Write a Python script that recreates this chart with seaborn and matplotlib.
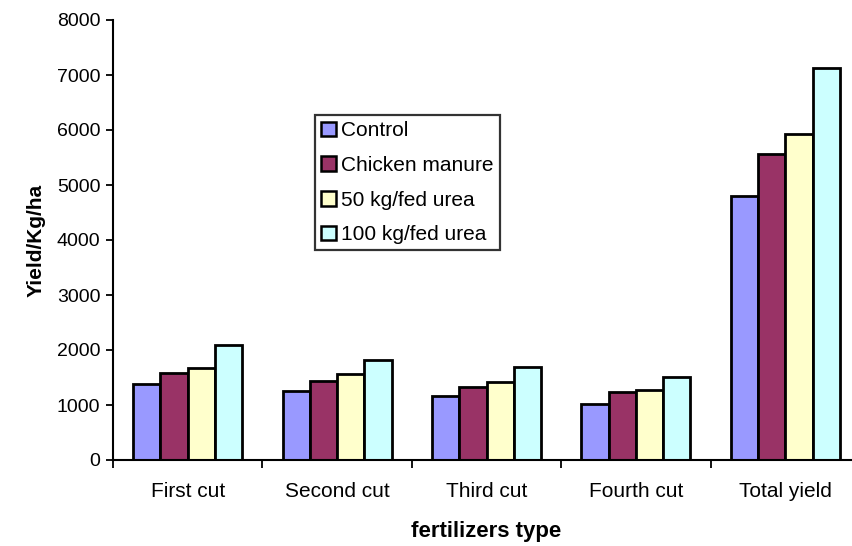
import matplotlib
matplotlib.use("Agg")
import matplotlib.pyplot as plt
import seaborn as sns
import pandas as pd
import numpy as np

categories = ["First cut", "Second cut", "Third cut", "Fourth cut", "Total yield"]
series_names = ["Control", "Chicken manure", "50 kg/fed urea", "100 kg/fed urea"]
control = [1380, 1250, 1160, 1010, 4800]
chicken = [1590, 1435, 1330, 1230, 5570]
urea50 = [1680, 1555, 1410, 1275, 5920]
urea100 = [2095, 1815, 1690, 1515, 7120]
colors = ["#9999FF", "#993366", "#FFFFCC", "#CCFFFF"]
yticks = [0, 1000, 2000, 3000, 4000, 5000, 6000, 7000, 8000]

rows = []
for name, vals in zip(series_names, [control, chicken, urea50, urea100]):
    for c, v in zip(categories, vals):
        rows.append({"cat": c, "series": name, "value": v})
df = pd.DataFrame(rows)

sns.set_theme(style="white")
plt.rcParams["font.family"] = ["Liberation Sans", "DejaVu Sans"]
plt.rcParams["text.color"] = "black"
plt.rcParams["axes.labelcolor"] = "black"
plt.rcParams["xtick.color"] = "black"
plt.rcParams["ytick.color"] = "black"

fig = plt.figure(figsize=(8.53, 5.46), dpi=100)
ax = fig.add_axes([113 / 853, 1 - 460 / 546, 747 / 853, 440 / 546])

sns.barplot(data=df, x="cat", y="value", hue="series", order=categories,
            hue_order=series_names, palette=colors, width=0.73,
            edgecolor="black", linewidth=2.0, saturation=1, ax=ax, errorbar=None)

ax.set_ylim(0, 8000)
ax.set_xlim(-0.5, 4.5)
ax.set_yticks(yticks)
ax.set_yticklabels([str(t) for t in yticks], fontsize=14)
ax.tick_params(axis="y", direction="out", length=5, width=1.3, color="black",
               labelcolor="black", pad=4, left=True)
ax.tick_params(axis="x", which="major", length=0, labelsize=15, labelcolor="black", pad=16)
ax.set_xticks(np.arange(-0.5, 5.0, 1.0), minor=True)
ax.tick_params(axis="x", which="minor", direction="out", length=6, width=1.3, color="black", bottom=True)

for s in ["top", "right"]:
    ax.spines[s].set_visible(False)
for s in ["left", "bottom"]:
    ax.spines[s].set_color("black")
    ax.spines[s].set_linewidth(1.5)

ax.set_xlabel("fertilizers type", fontsize=16, fontweight="bold", labelpad=14, color="black")
ax.set_ylabel("Yield/Kg/ha", fontsize=15, fontweight="bold", labelpad=8, color="black")

leg = ax.legend(loc="upper left", bbox_to_anchor=(315 / 853, 1 - 115 / 546),
                bbox_transform=fig.transFigure, fontsize=15, frameon=True,
                fancybox=False, edgecolor="black", handlelength=0.7, handleheight=0.7,
                handletextpad=0.25, labelspacing=0.75, borderpad=0.3, borderaxespad=0)
leg.get_frame().set_linewidth(1.6)
for t in leg.get_texts():
    t.set_color("black")
for h in leg.legend_handles:
    h.set_edgecolor("black")
    h.set_linewidth(1.8)

fig.savefig("out.png", dpi=100)
